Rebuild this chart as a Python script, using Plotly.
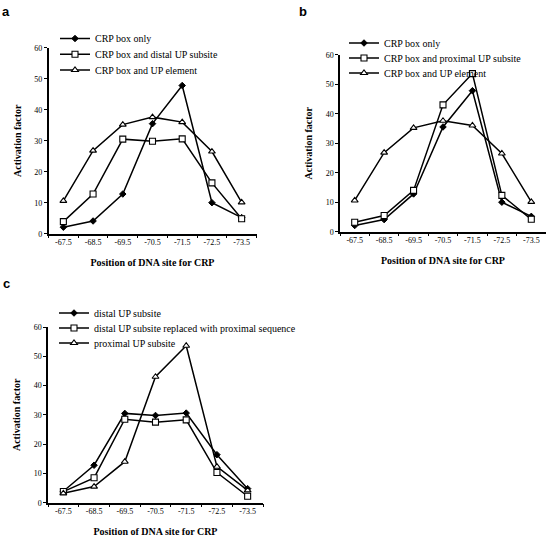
import plotly.graph_objects as go

positions = ["-67.5", "-68.5", "-69.5", "-70.5", "-71.5", "-72.5", "-73.5"]

# Panel a
a_crp_only = [2.1, 4.1, 12.8, 35.5, 47.8, 10.0, 5.2]
a_distal = [3.9, 12.8, 30.5, 29.8, 30.6, 16.4, 4.8]
a_up_element = [10.6, 26.8, 35.2, 37.6, 36.0, 26.5, 10.1]

# Panel b
b_crp_only = [2.1, 4.1, 12.8, 35.5, 47.8, 10.0, 5.2]
b_proximal = [3.2, 5.5, 14.0, 43.0, 53.6, 12.3, 4.2]
b_up_element = [10.6, 26.8, 35.2, 37.6, 36.0, 26.5, 10.1]

# Panel c
c_distal = [3.9, 12.8, 30.5, 29.8, 30.6, 16.4, 4.8]
c_replaced = [3.8, 8.5, 28.5, 27.5, 28.3, 10.3, 2.2]
c_proximal = [3.2, 5.5, 14.0, 43.0, 53.6, 12.3, 4.2]

W, H = 550, 539
SERIF = "Liberation Serif"

MK = {
    "diamond": dict(symbol="diamond", size=5, color="black", line=dict(color="black", width=1)),
    "square": dict(symbol="square", size=6, color="white", line=dict(color="black", width=1.1)),
    "triangle": dict(symbol="triangle-up", size=6, color="white", line=dict(color="black", width=1.1)),
}

panels = [
    # (xaxis id, yaxis id, series list, x px range, y px range, legend left px, legend row y px)
    ("x", "y", [("CRP box only", a_crp_only, "diamond"),
                ("CRP box and distal UP subsite", a_distal, "square"),
                ("CRP box and UP element", a_up_element, "triangle")],
     (48.5, 256.5), (47.7, 233.7), 55, [38.5, 54.3, 70]),
    ("x2", "y2", [("CRP box only", b_crp_only, "diamond"),
                  ("CRP box and proximal UP subsite", b_proximal, "square"),
                  ("CRP box and UP element", b_up_element, "triangle")],
     (340, 546), (54.7, 231.7), 344, [43, 58, 73]),
    ("x3", "y3", [("distal UP subsite", c_distal, "diamond"),
                  ("distal UP subsite replaced with proximal sequence", c_replaced, "square"),
                  ("proximal UP subsite", c_proximal, "triangle")],
     (48, 263), (327, 502.7), 54, [313, 328, 343]),
]

fig = go.Figure()
layout = dict(
    width=W, height=H, margin=dict(l=0, r=0, t=0, b=0, autoexpand=False),
    paper_bgcolor="white", plot_bgcolor="white", showlegend=True,
    font=dict(family=SERIF, color="black"),
)

lg_index = 0
for i, (xa, ya, series, xr, yr, lx, rows) in enumerate(panels):
    for (name, vals, mk), ry in zip(series, rows):
        lg_index += 1
        lg = "legend" if lg_index == 1 else "legend" + str(lg_index)
        fig.add_trace(go.Scatter(
            x=positions, y=vals, name=name, mode="lines+markers",
            line=dict(color="black", width=1.5), marker=MK[mk],
            xaxis=xa, yaxis=ya, legend=lg,
        ))
        layout[lg] = dict(
            x=lx / W, y=1 - ry / H, xanchor="left", yanchor="middle",
            bgcolor="rgba(0,0,0,0)", borderwidth=0,
            font=dict(family=SERIF, size=10, color="black"),
            itemwidth=30,
        )
    suffix = "" if i == 0 else str(i + 1)
    layout["xaxis" + suffix] = dict(
        domain=[xr[0] / W, xr[1] / W], anchor=ya, type="category", automargin=False,
        range=[-0.5, 6.5], tickson="boundaries", ticks="outside", ticklen=3,
        tickwidth=1, tickcolor="black", showline=True, linecolor="black", linewidth=1.5,
        showgrid=False, zeroline=False, tickfont=dict(family=SERIF, size=8, color="black"),
        title=dict(text="<b>Position of DNA site for CRP</b>",
                   font=dict(family=SERIF, size=10, color="black"), standoff=13),
    )
    layout["yaxis" + suffix] = dict(
        domain=[1 - yr[1] / H, 1 - yr[0] / H], anchor=xa, range=[0, 60], dtick=10,
        automargin=False,
        ticks="outside", ticklen=3, tickwidth=1, tickcolor="black",
        showline=True, linecolor="black", linewidth=1.5, showgrid=False, zeroline=False,
        tickfont=dict(family=SERIF, size=8, color="black"),
        title=dict(text="<b>Activation factor</b>",
                   font=dict(family=SERIF, size=10, color="black"), standoff=11),
    )

fig.update_layout(**layout)

for txt, px, py in [("a", 6, 12), ("b", 303, 11), ("c", 6, 283)]:
    fig.add_annotation(text="<b>" + txt + "</b>", x=px / W, y=1 - py / H, xref="paper", yref="paper",
                       xanchor="center", yanchor="middle", showarrow=False,
                       font=dict(family="Liberation Sans", size=13, color="black"))

fig.write_html("out.html", config={"displayModeBar": False},
               post_script="document.body.style.margin='0';document.body.style.padding='0';")
